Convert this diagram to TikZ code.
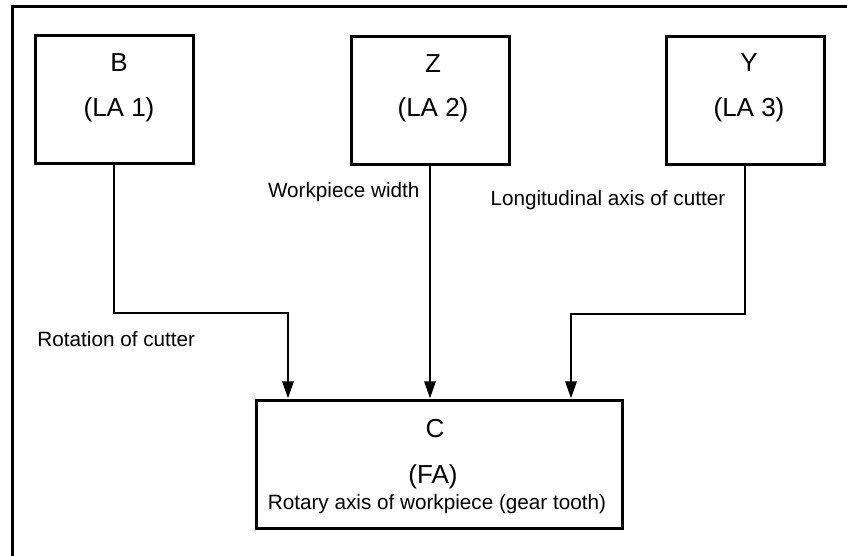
\documentclass[tikz,border=0pt]{standalone}
\usepackage{fontspec}
\setmainfont{Liberation Sans}
\usetikzlibrary{arrows.meta}
\begin{document}
\begin{tikzpicture}[x=1pt,y=-1pt,
  line width=3pt,
  axisbox/.style={draw,minimum width=158pt,minimum height=128pt,inner sep=0pt},
  mainbox/.style={draw,minimum width=366pt,minimum height=128pt,inner sep=0pt},
  boxtext/.style={inner sep=0pt,anchor=base,font=\fontsize{26}{30}\selectfont},
  note/.style={inner sep=0pt,font=\fontsize{20.7}{24}\selectfont},
  feed/.style={line width=2.7pt,-{Triangle[length=17pt,width=11pt]}}]
\useasboundingbox (0,0) rectangle (847,556);

% frame (top and left edges)
\draw (847,7) -- (12,7) -- (12,556);

% axis boxes
\node[axisbox] (B) at (114,100) {};
\node[axisbox] (Z) at (430,100.5) {};
\node[axisbox] (Y) at (745,100.5) {};
\node[mainbox] (C) at (439,464) {};

\node[boxtext] (Bname) at (119,72) {B};
\node[boxtext] (Bla) at (119,117) {(LA 1)};
\node[boxtext] (Zname) at (433,73) {Z};
\node[boxtext] (Zla) at (433,117) {(LA 2)};
\node[boxtext] (Yname) at (749,72) {Y};
\node[boxtext] (Yla) at (749,117) {(LA 3)};
\node[boxtext] (Cname) at (435,437) {C};
\node[boxtext] (Cfa) at (433,483) {(FA)};
\node[note,anchor=base] (Cdesc) at (437,509) {Rotary axis of workpiece (gear tooth)};

% connector labels
\node[note,anchor=base west] (rot) at (36,347) {Rotation of cutter};
\node[note,anchor=base east] (wid) at (421,198) {Workpiece width};
\node[note,anchor=base west] (lon) at (489,206) {Longitudinal axis of cutter};

% connectors
\coordinate (b1) at (114,313);
\coordinate (b2) at (288,313);
\coordinate (y1) at (745,314);
\coordinate (y2) at (571,314);
\draw[feed] (B.south) -- (b1) -- (b2) -- (b2 |- C.north);
\draw[feed] (Z.south) -- (Z.south |- C.north);
\draw[feed] (Y.south) -- (y1) -- (y2) -- (y2 |- C.north);
\end{tikzpicture}
\end{document}
